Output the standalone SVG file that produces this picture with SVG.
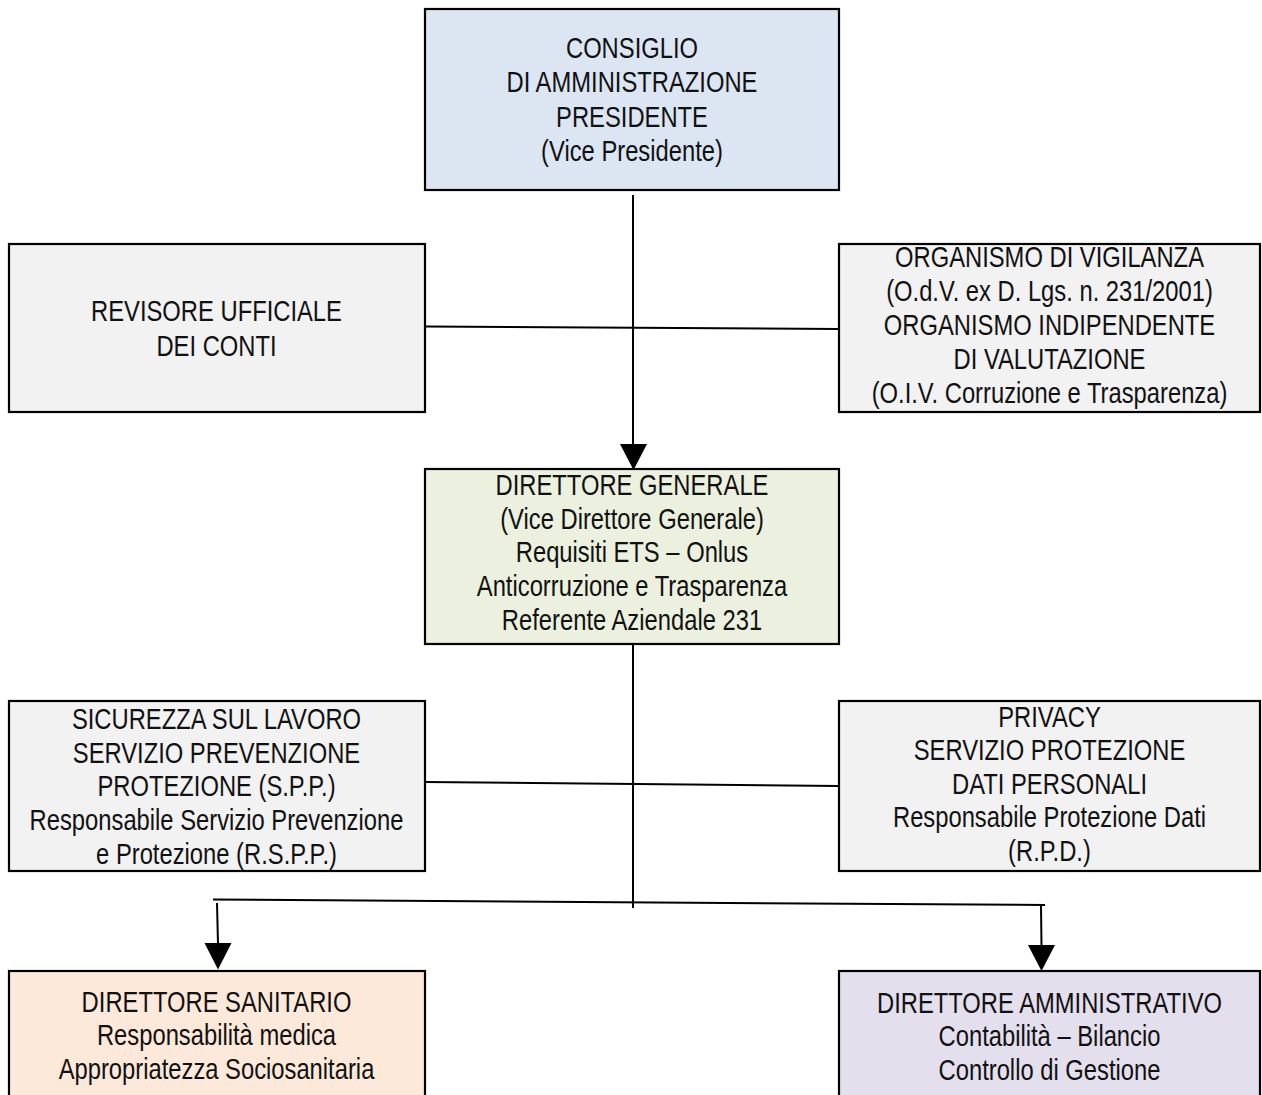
<svg xmlns="http://www.w3.org/2000/svg" width="1262" height="1095" viewBox="0 0 1262 1095">
<defs>
<style>
.box{stroke:#000;stroke-width:2.2}
.t{font-family:"Liberation Sans",Arial,sans-serif;font-size:29px;fill:#111;text-anchor:middle}
.ln{stroke:#000;stroke-width:2;fill:none}
.ah{fill:#000}
</style>
</defs>
<rect width="1262" height="1095" fill="#fff"/>
<g id="cda">
<rect class="box" x="425" y="9" width="414" height="181" fill="#dce6f2"/>
<g transform="translate(632 0) scale(0.82 1)">
<text class="t" x="0" y="58">CONSIGLIO</text>
<text class="t" x="0" y="92.5">DI AMMINISTRAZIONE</text>
<text class="t" x="0" y="127">PRESIDENTE</text>
<text class="t" x="0" y="161.5">(Vice Presidente)</text>
</g>
</g>
<g id="revisore">
<rect class="box" x="9" y="244" width="416" height="168" fill="#f2f2f2"/>
<g transform="translate(216.5 0) scale(0.82 1)">
<text class="t" x="0" y="321.5">REVISORE UFFICIALE</text>
<text class="t" x="0" y="356">DEI CONTI</text>
</g>
</g>
<g id="odv">
<rect class="box" x="839" y="244" width="421" height="168" fill="#f2f2f2"/>
<g transform="translate(1049.5 0) scale(0.82 1)">
<text class="t" x="0" y="267">ORGANISMO DI VIGILANZA</text>
<text class="t" x="0" y="301">(O.d.V. ex D. Lgs. n. 231/2001)</text>
<text class="t" x="0" y="335">ORGANISMO INDIPENDENTE</text>
<text class="t" x="0" y="369">DI VALUTAZIONE</text>
<text class="t" x="0" y="403">(O.I.V. Corruzione e Trasparenza)</text>
</g>
</g>
<g id="dg">
<rect class="box" x="425" y="469" width="414" height="175" fill="#ebf1de"/>
<g transform="translate(632 0) scale(0.82 1)">
<text class="t" x="0" y="495">DIRETTORE GENERALE</text>
<text class="t" x="0" y="528.7">(Vice Direttore Generale)</text>
<text class="t" x="0" y="562.4">Requisiti ETS – Onlus</text>
<text class="t" x="0" y="596.1">Anticorruzione e Trasparenza</text>
<text class="t" x="0" y="629.8">Referente Aziendale 231</text>
</g>
</g>
<g id="sicurezza">
<rect class="box" x="9" y="701" width="416" height="170" fill="#f2f2f2"/>
<g transform="translate(216.5 0) scale(0.82 1)">
<text class="t" x="0" y="729">SICUREZZA SUL LAVORO</text>
<text class="t" x="0" y="762.7">SERVIZIO PREVENZIONE</text>
<text class="t" x="0" y="796.4">PROTEZIONE (S.P.P.)</text>
<text class="t" x="0" y="830.1">Responsabile Servizio Prevenzione</text>
<text class="t" x="0" y="863.8">e Protezione (R.S.P.P.)</text>
</g>
</g>
<g id="privacy">
<rect class="box" x="839" y="701" width="421" height="170" fill="#f2f2f2"/>
<g transform="translate(1049.5 0) scale(0.82 1)">
<text class="t" x="0" y="727">PRIVACY</text>
<text class="t" x="0" y="760.4">SERVIZIO PROTEZIONE</text>
<text class="t" x="0" y="793.8">DATI PERSONALI</text>
<text class="t" x="0" y="827.2">Responsabile Protezione Dati</text>
<text class="t" x="0" y="860.6">(R.P.D.)</text>
</g>
</g>
<g id="ds">
<rect class="box" x="9" y="971" width="416" height="140" fill="#fde9d9"/>
<g transform="translate(216.5 0) scale(0.82 1)">
<text class="t" x="0" y="1012">DIRETTORE SANITARIO</text>
<text class="t" x="0" y="1045.4">Responsabilità medica</text>
<text class="t" x="0" y="1078.8">Appropriatezza Sociosanitaria</text>
</g>
</g>
<g id="da">
<rect class="box" x="839" y="971" width="421" height="140" fill="#e4dfec"/>
<g transform="translate(1049.5 0) scale(0.82 1)">
<text class="t" x="0" y="1013">DIRETTORE AMMINISTRATIVO</text>
<text class="t" x="0" y="1046.4">Contabilità – Bilancio</text>
<text class="t" x="0" y="1079.8">Controllo di Gestione</text>
</g>
</g>
<g id="connectors">
<line class="ln" x1="633" y1="195" x2="633" y2="445"/>
<polygon class="ah" points="620,444 647,444 633.5,470"/>
<line class="ln" x1="425" y1="326.5" x2="839" y2="329"/>
<line class="ln" x1="633" y1="645" x2="633" y2="908"/>
<line class="ln" x1="425" y1="782" x2="839" y2="786"/>
<line class="ln" x1="213" y1="899.5" x2="1045" y2="905"/>
<line class="ln" x1="217" y1="903" x2="218" y2="944"/>
<polygon class="ah" points="204.5,943 231.5,943 218,969.5"/>
<line class="ln" x1="1041" y1="906" x2="1041.5" y2="946"/>
<polygon class="ah" points="1028,945 1055,945 1041.5,971"/>
</g>
</svg>
